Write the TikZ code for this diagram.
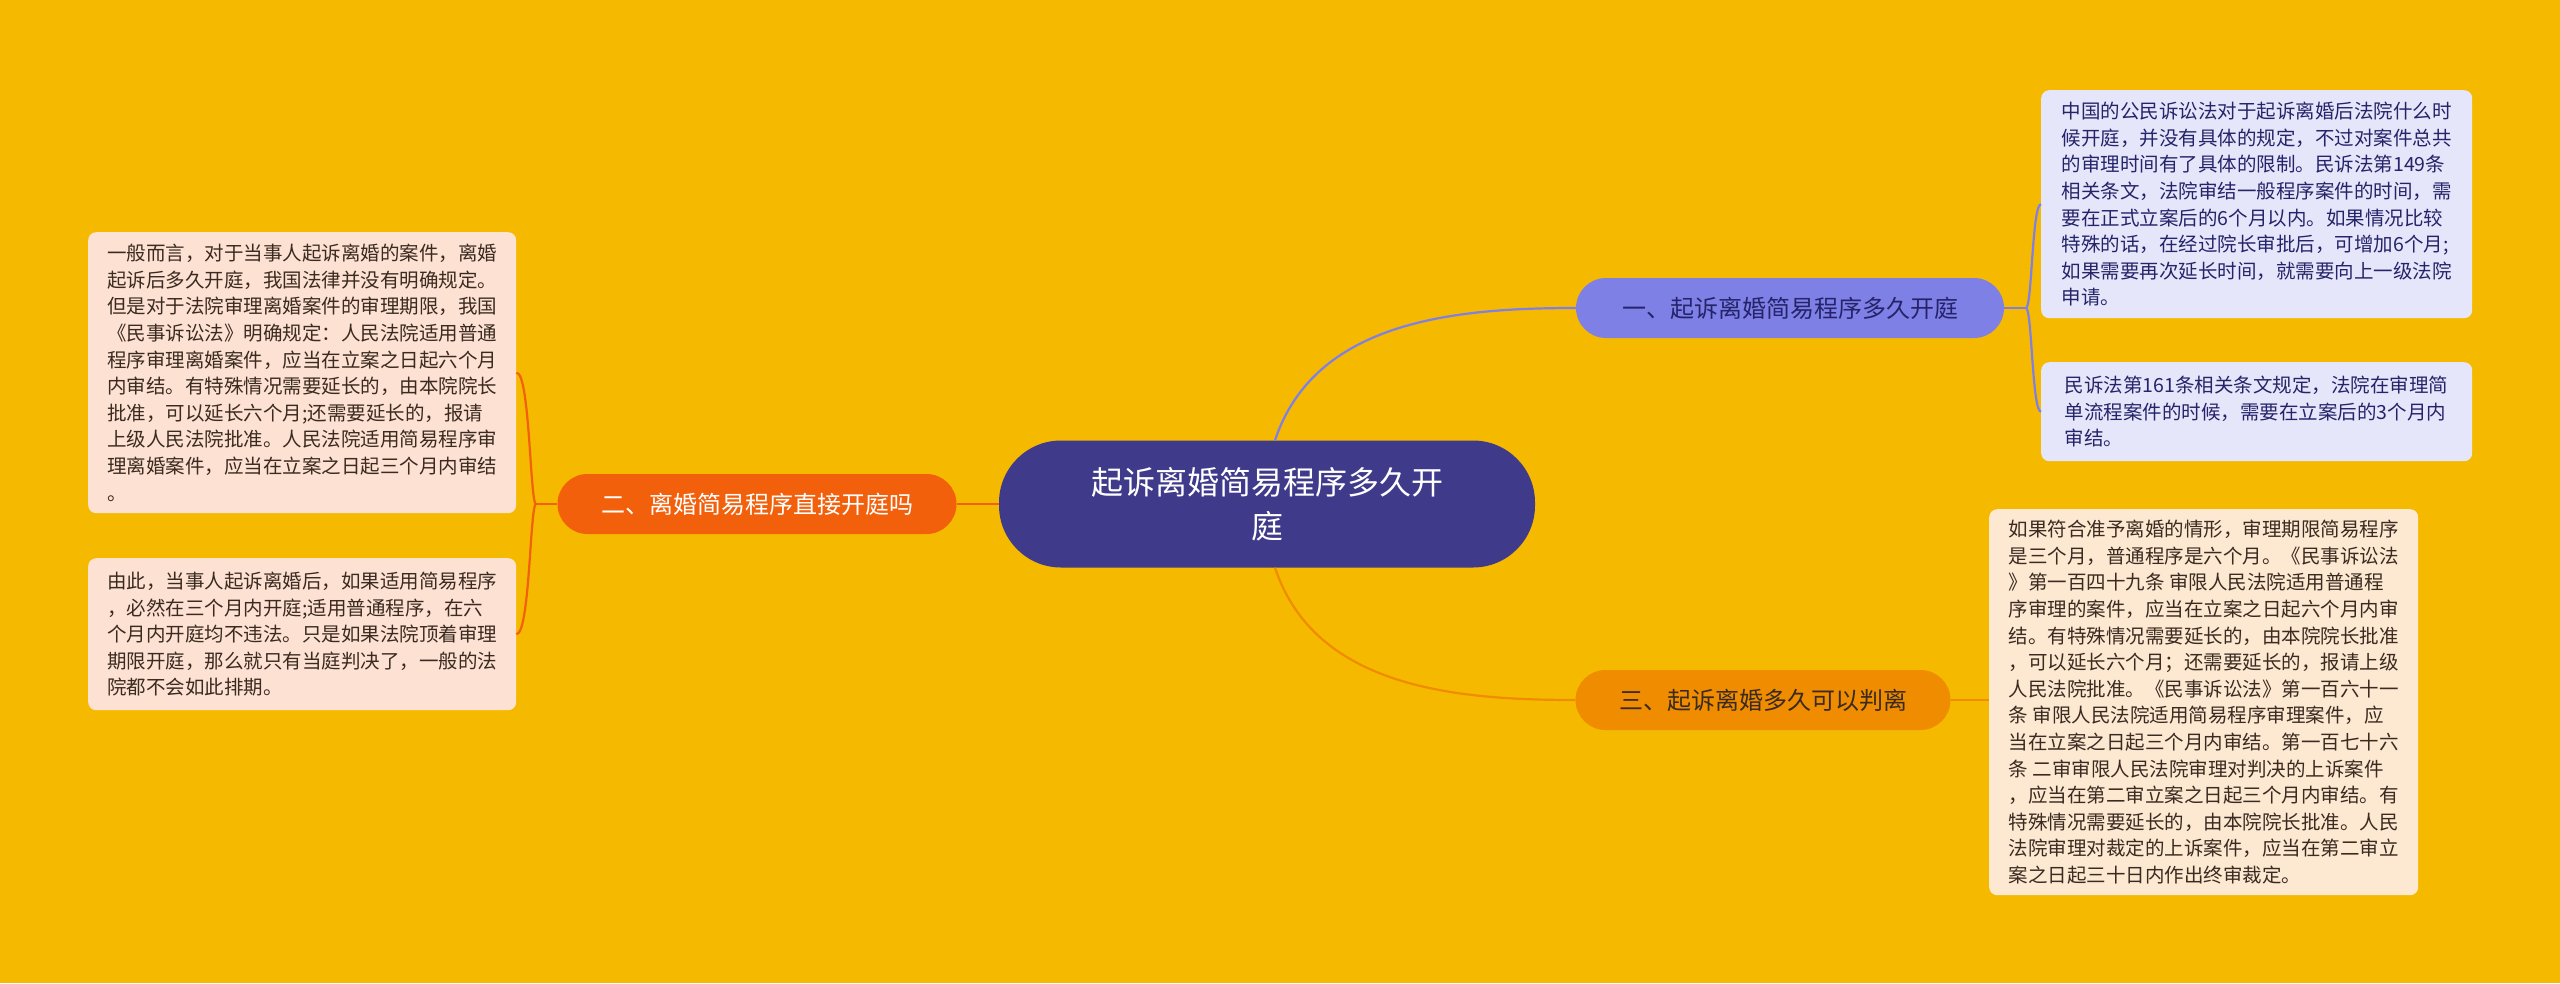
\documentclass[tikz,border=0pt]{standalone}
\usepackage{fontspec}
\setmainfont{Noto Sans CJK SC}
\definecolor{bg}{HTML}{F5B900}
\definecolor{cen}{HTML}{3F3A8A}
\definecolor{pur}{HTML}{7E80E6}
\definecolor{red}{HTML}{F2600C}
\definecolor{org}{HTML}{F08C00}
\definecolor{lav}{HTML}{E6E6FA}
\definecolor{pch}{HTML}{FDE8D2}
\definecolor{pnk}{HTML}{FDE1D3}
\definecolor{txt}{HTML}{3A2A20}
\definecolor{txtb}{HTML}{25246A}
\tikzset{
 leaf/.style={rounded corners=8pt,anchor=north west,inner xsep=12pt,inner ysep=10pt,align=left,font=\fontsize{19.5pt}{26.6pt}\selectfont},
 br/.style={rounded corners=30pt,minimum height=60pt,inner xsep=24pt,font=\fontsize{24pt}{30pt}\selectfont},
 con/.style={line width=2.2pt}
}
\begin{document}
\begin{tikzpicture}[x=1pt,y=-1pt]
\fill[bg] (0,0) rectangle (2560,983);
\useasboundingbox (0,0) rectangle (2560,983);
\node[fill=cen,text=white,rounded corners=62pt,minimum width=536pt,minimum height=127pt,align=center,font=\fontsize{32pt}{44pt}\selectfont] (c) at (1267,504) {起诉离婚简易程序多久开\\庭};
\node[br,fill=pur,text=txtb,minimum width=428pt] (b1) at (1790,308) {一、起诉离婚简易程序多久开庭};
\node[br,fill=red,text=white,minimum width=399pt] (b2) at (757,504) {二、离婚简易程序直接开庭吗};
\node[br,fill=org,text=txt,minimum width=375pt] (b3) at (1763,700) {三、起诉离婚多久可以判离};
\node[leaf,fill=lav,text=txtb,minimum width=431pt,minimum height=228pt] (r1) at (2041,90) {中国的公民诉讼法对于起诉离婚后法院什么时\\候开庭，并没有具体的规定，不过对案件总共\\的审理时间有了具体的限制。民诉法第149条\\相关条文，法院审结一般程序案件的时间，需\\要在正式立案后的6个月以内。如果情况比较\\特殊的话，在经过院长审批后，可增加6个月;\\如果需要再次延长时间，就需要向上一级法院\\申请。};
\node[leaf,fill=lav,text=txtb,minimum width=431pt,minimum height=99pt] (r2) at (2041,362) {民诉法第161条相关条文规定，法院在审理简\\单流程案件的时候，需要在立案后的3个月内\\审结。};
\node[leaf,fill=pch,text=txt,minimum width=429pt,minimum height=386pt] (r3) at (1989,509) {如果符合准予离婚的情形，审理期限简易程序\\是三个月，普通程序是六个月。《民事诉讼法\\》第一百四十九条 审限人民法院适用普通程\\序审理的案件，应当在立案之日起六个月内审\\结。有特殊情况需要延长的，由本院院长批准\\，可以延长六个月；还需要延长的，报请上级\\人民法院批准。《民事诉讼法》第一百六十一\\条 审限人民法院适用简易程序审理案件，应\\当在立案之日起三个月内审结。第一百七十六\\条 二审审限人民法院审理对判决的上诉案件\\，应当在第二审立案之日起三个月内审结。有\\特殊情况需要延长的，由本院院长批准。人民\\法院审理对裁定的上诉案件，应当在第二审立\\案之日起三十日内作出终审裁定。};
\node[leaf,fill=pnk,text=txt,minimum width=428pt,minimum height=281pt] (l1) at (88,232) {一般而言，对于当事人起诉离婚的案件，离婚\\起诉后多久开庭，我国法律并没有明确规定。\\但是对于法院审理离婚案件的审理期限，我国\\《民事诉讼法》明确规定：人民法院适用普通\\程序审理离婚案件，应当在立案之日起六个月\\内审结。有特殊情况需要延长的，由本院院长\\批准，可以延长六个月;还需要延长的，报请\\上级人民法院批准。人民法院适用简易程序审\\理离婚案件，应当在立案之日起三个月内审结\\。};
\node[leaf,fill=pnk,text=txt,minimum width=428pt,minimum height=152pt] (l2) at (88,558) {由此，当事人起诉离婚后，如果适用简易程序\\，必然在三个月内开庭;适用普通程序，在六\\个月内开庭均不违法。只是如果法院顶着审理\\期限开庭，那么就只有当庭判决了，一般的法\\院都不会如此排期。};
% connectors
\draw[con,pur] (c.north) ++(8,0) coordinate (cu) .. controls +(40,-120) and +(-120,0) .. (b1.west);
\draw[con,org] (c.south) ++(8,0) coordinate (cd) .. controls +(40,120) and +(-120,0) .. (b3.west);
\draw[con,red] (c.west) -- (b2.east);
\draw[con,org] (b3.east) -- (r3.west |- b3.east);
\coordinate (j1) at (2026,308);
\draw[con,pur] (b1.east) -- (j1);
\draw[con,pur] (j1) .. controls (2032,308) and (2032,204) .. (r1.west);
\draw[con,pur] (j1) .. controls (2032,308) and (2032,412) .. (r2.west);
\coordinate (j2) at (536,504);
\draw[con,red] (b2.west) -- (j2);
\draw[con,red] (j2) .. controls (530,504) and (530,372) .. (l1.east);
\draw[con,red] (j2) .. controls (530,504) and (530,634) .. (l2.east);
\end{tikzpicture}
\end{document}
